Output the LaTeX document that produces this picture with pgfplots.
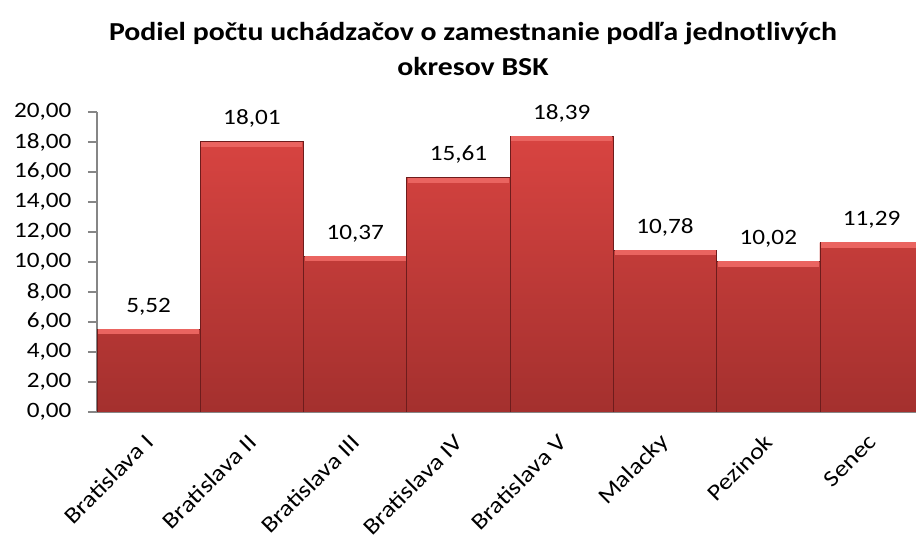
\documentclass[border=0pt]{standalone}
\usepackage{fontspec}
\setmainfont[FakeStretch=1.15]{Carlito}
\usepackage{pgfplots}
\pgfplotsset{compat=1.18}
\definecolor{barTop}{RGB}{216,68,65}
\definecolor{barBot}{RGB}{164,48,46}
\definecolor{barEdge}{RGB}{110,28,28}
\definecolor{bevel}{RGB}{234,100,96}
\definecolor{axisGray}{RGB}{134,134,134}
\begin{document}
\begin{tikzpicture}[x=1bp,y=1bp]
\useasboundingbox (0,0) rectangle (916,540);
\begin{axis}[
  at={(97bp,128bp)}, anchor=south west,
  scale only axis, width=819bp, height=300bp,
  xmin=-0.5, xmax=7.43, ymin=0, ymax=20,
  axis x line=bottom, axis y line=left,
  axis line style={-, draw=axisGray, line width=1.2bp},
  ytick={0,2,...,20},
  yticklabel style={font=\fontsize{22}{26}\selectfont, xshift=-13bp,
    /pgf/number format/fixed, /pgf/number format/fixed zerofill,
    /pgf/number format/precision=2, /pgf/number format/use comma,
    /pgf/number format/assume math mode=true},
  tick align=outside, major tick length=9bp,
  ytick style={draw=axisGray, line width=1.2bp},
  xtick={0,...,7}, xtick style={draw=none},
  xticklabels={Bratislava I, Bratislava II, Bratislava III, Bratislava IV, Bratislava V, Malacky, Pezinok, Senec},
  xticklabel style={font=\fontsize{23}{27}\selectfont, yshift=-15bp, xshift=3bp, rotate=45, anchor=east},
  ybar, bar width=1,
  nodes near coords,
  point meta=y,
  nodes near coords style={font=\fontsize{22}{26}\selectfont,
    /pgf/number format/fixed, /pgf/number format/fixed zerofill,
    /pgf/number format/precision=2, /pgf/number format/use comma,
    /pgf/number format/assume math mode=true},
  every node near coord/.append style={anchor=base, yshift=17bp},
]
\addplot[fill=barTop, top color=barTop, bottom color=barBot, draw=barEdge, line width=0.8bp]
  coordinates {(0,5.52) (1,18.01) (2,10.37) (3,15.61) (4,18.39) (5,10.78) (6,10.02) (7,11.29)};
\addplot[ybar=0pt, nodes near coords=\empty, only marks, mark=-, mark size=50.5bp,
  mark options={draw=bevel, line width=5.2bp, yshift=-2.3bp}]
  coordinates {(0,5.52) (1,18.01) (2,10.37) (3,15.61) (4,18.39) (5,10.78) (6,10.02) (7,11.29)};
\end{axis}
\node[font=\fontsize{26}{35}\selectfont\bfseries, align=center] at (473,491)
  {Podiel počtu uchádzačov o zamestnanie podľa jednotlivých\\okresov BSK};
\end{tikzpicture}
\end{document}
